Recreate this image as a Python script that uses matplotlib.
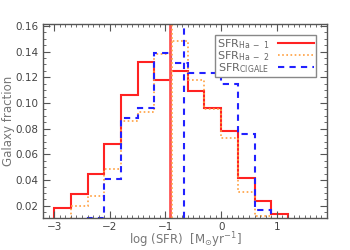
import numpy as np
import matplotlib
matplotlib.use("Agg")
import matplotlib.pyplot as plt
from matplotlib.ticker import MultipleLocator

# histogram data (fraction per 0.3 dex bin)
red_edges = [-3.0, -2.7, -2.4, -2.1, -1.8, -1.5, -1.2, -0.9, -0.6, -0.3, 0.0, 0.3, 0.6, 0.9, 1.2]
red_vals = [0.018, 0.029, 0.045, 0.068, 0.106, 0.132, 0.118, 0.125, 0.109, 0.096, 0.078, 0.0415, 0.024, 0.0135]

orange_edges = [-2.7, -2.4, -2.1, -1.8, -1.5, -1.2, -0.9, -0.6, -0.3, 0.0, 0.3, 0.6, 0.9]
orange_vals = [0.0195, 0.028, 0.049, 0.086, 0.093, 0.138, 0.148, 0.118, 0.095, 0.073, 0.031, 0.0122]

blue_edges = [-2.4, -2.1, -1.8, -1.5, -1.2, -0.9, -0.6, -0.3, 0.0, 0.3, 0.6, 0.9]
blue_vals = [0.0105, 0.041, 0.088, 0.0965, 0.139, 0.131, 0.123, 0.123, 0.115, 0.076, 0.017]

# medians
med_red = -0.92
med_orange = -0.875
med_blue = -0.66

labels = [r"SFR$_{\rm Ha\ -\ 1}$", r"SFR$_{\rm Ha\ -\ 2}$", r"SFR$_{\rm CIGALE}$"]

c_red = "#ff2222"
c_orange = "#ffa040"
c_blue = "#2222ff"
gray = "#555555"

fig = plt.figure(figsize=(3.5, 2.5), dpi=100)
ax = fig.add_axes([0.123, 0.128, 0.811, 0.776])

ax.stairs(red_vals, red_edges, color=c_red, lw=1.5, label=labels[0])
ax.stairs(orange_vals, orange_edges, color=c_orange, lw=1.2, ls=(0, (1, 1.5)), label=labels[1])
ax.stairs(blue_vals, blue_edges, color=c_blue, lw=1.5, ls=(0, (3, 2.5)), label=labels[2])

ax.axvline(med_red, color="#ff5555", lw=2)
ax.axvline(med_orange, color=c_orange, lw=1.2, ls=(0, (1, 1.5)))
ax.axvline(med_blue, color=c_blue, lw=1.5, ls=(0, (3, 2.5)))

ax.set_xlim(-3.2, 1.9)
ax.set_ylim(0.0105, 0.1615)
ax.set_xticks([-3, -2, -1, 0, 1])
ax.set_xticklabels(["\u22123", "\u22122", "\u22121", "0", "1"])
ax.set_yticks([0.02, 0.04, 0.06, 0.08, 0.10, 0.12, 0.14, 0.16])
ax.set_yticklabels(["0.02", "0.04", "0.06", "0.08", "0.10", "0.12", "0.14", "0.16"])
ax.xaxis.set_minor_locator(MultipleLocator(0.1))
ax.yaxis.set_minor_locator(MultipleLocator(0.005))
ax.tick_params(which="both", direction="in", top=True, right=True, colors=gray,
               labelcolor="#444444", labelsize=7.5)
ax.tick_params(which="major", length=5, width=0.8)
ax.tick_params(which="minor", length=2.5, width=0.6)
ax.tick_params(axis="x", pad=3)
for s in ax.spines.values():
    s.set_color(gray)
    s.set_linewidth(1)

ax.set_xlabel(r"log (SFR)  [M$_{\odot}$yr$^{-1}$]", color="#777777", fontsize=8.5)
ax.xaxis.set_label_coords(0.5, -0.065)
ax.set_ylabel("Galaxy fraction", color="#777777", fontsize=8.5)
ax.yaxis.set_label_coords(-0.1, 0.5)

leg = ax.legend(loc="upper right", bbox_to_anchor=(0.98, 0.97), markerfirst=False,
                fontsize=8, handlelength=3.2, handletextpad=0.8, labelspacing=-0.15,
                borderpad=0.15, fancybox=False, framealpha=1)
leg.get_frame().set_edgecolor("#888888")
leg.get_frame().set_linewidth(1)
for t in leg.get_texts():
    t.set_color("#666666")

fig.savefig("out.png", dpi=100)
